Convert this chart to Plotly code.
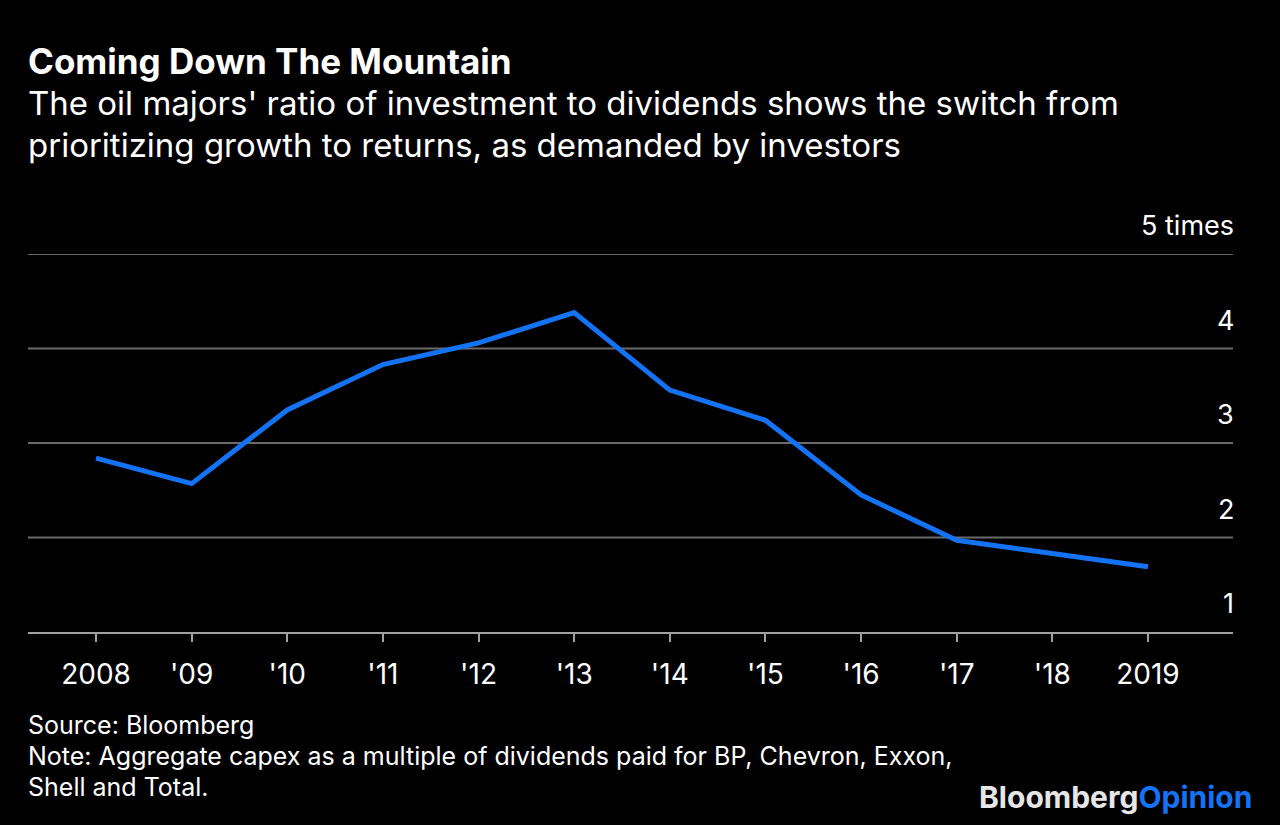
import plotly.graph_objects as go

years = [2008, 2009, 2010, 2011, 2012, 2013, 2014, 2015, 2016, 2017, 2018, 2019]
year_labels = ["2008", "'09", "'10", "'11", "'12", "'13", "'14", "'15", "'16", "'17", "'18", "2019"]
ratio = [2.84, 2.57, 3.35, 3.83, 4.06, 4.38, 3.56, 3.24, 2.45, 1.97, 1.83, 1.69]
y_ticks = [1, 2, 3, 4, 5]
y_tick_labels = ["1", "2", "3", "4", "5 times"]

title = "Coming Down The Mountain"
subtitle_lines = [
    "The oil majors' ratio of investment to dividends shows the switch from",
    "prioritizing growth to returns, as demanded by investors",
]
footer_lines = [
    "Source: Bloomberg",
    "Note: Aggregate capex as a multiple of dividends paid for BP, Chevron, Exxon,",
    "Shell and Total.",
]

FONT = "Inter, Liberation Sans, Arial, sans-serif"
W, H = 1280, 825
L, R, T, B = 28, 47, 254, 193
PW, PH = W - L - R, H - T - B


def px_x(x):
    return (x - L) / PW


def px_y(y):
    return 1 - (y - T) / PH


fig = go.Figure()
fig.add_trace(go.Scatter(
    x=years, y=ratio, mode="lines",
    line=dict(color="#1472F5", width=5),
    hoverinfo="skip", showlegend=False,
))

shapes = []
for v in y_ticks[1:]:
    shapes.append(dict(type="line", xref="paper", yref="y", x0=0, x1=1, y0=v, y1=v,
                       line=dict(color="#6a6a6a", width=2), layer="below"))

annotations = []
for v, lab in zip(y_ticks, y_tick_labels):
    annotations.append(dict(xref="paper", yref="y", x=1, y=v, text=lab, showarrow=False,
                            xanchor="right", yanchor="bottom", yshift=10, xshift=3,
                            font=dict(family=FONT, size=27, color="#ffffff")))

annotations.append(dict(xref="paper", yref="paper", x=px_x(26), y=px_y(61),
                        xanchor="left", yanchor="middle", text="<b>" + title + "</b>",
                        showarrow=False, font=dict(family=FONT, size=35, color="#ffffff")))
for i, line in enumerate(subtitle_lines):
    annotations.append(dict(xref="paper", yref="paper", x=px_x(26), y=px_y(103 + 42 * i),
                            xanchor="left", yanchor="middle", text=line, showarrow=False,
                            font=dict(family=FONT, size=33, color="#ffffff")))
for i, line in enumerate(footer_lines):
    annotations.append(dict(xref="paper", yref="paper", x=px_x(26), y=px_y(725 + 31 * i),
                            xanchor="left", yanchor="middle", text=line, showarrow=False,
                            font=dict(family=FONT, size=25, color="#ffffff")))
annotations.append(dict(xref="paper", yref="paper", x=px_x(1254), y=px_y(797),
                        xanchor="right", yanchor="middle",
                        text="<b><span style='color:#e6e6e6'>Bloomberg</span><span style='color:#1472F5'>Opinion</span></b>",
                        showarrow=False, font=dict(family=FONT, size=30, color="#e6e6e6")))

fig.update_layout(
    width=W, height=H,
    paper_bgcolor="#000000", plot_bgcolor="#000000",
    margin=dict(l=L, r=R, t=T, b=B, pad=0),
    showlegend=False,
    shapes=shapes,
    annotations=annotations,
    xaxis=dict(
        range=[2007.289, 2019.889], tickvals=years, ticktext=year_labels,
        showgrid=False, zeroline=False,
        showline=True, linecolor="#a0a0a0", linewidth=2,
        ticks="outside", ticklen=8, tickwidth=2, tickcolor="#a0a0a0",
        ticklabelstandoff=8,
        tickfont=dict(family=FONT, size=28, color="#ffffff"),
        fixedrange=True,
    ),
    yaxis=dict(
        range=[1, 5], showgrid=False, zeroline=False, showticklabels=False,
        showline=False, fixedrange=True,
    ),
)

fig.write_html("out.html", config={"displayModeBar": False},
               post_script="document.body.style.margin='0';document.body.style.background='#000';")
